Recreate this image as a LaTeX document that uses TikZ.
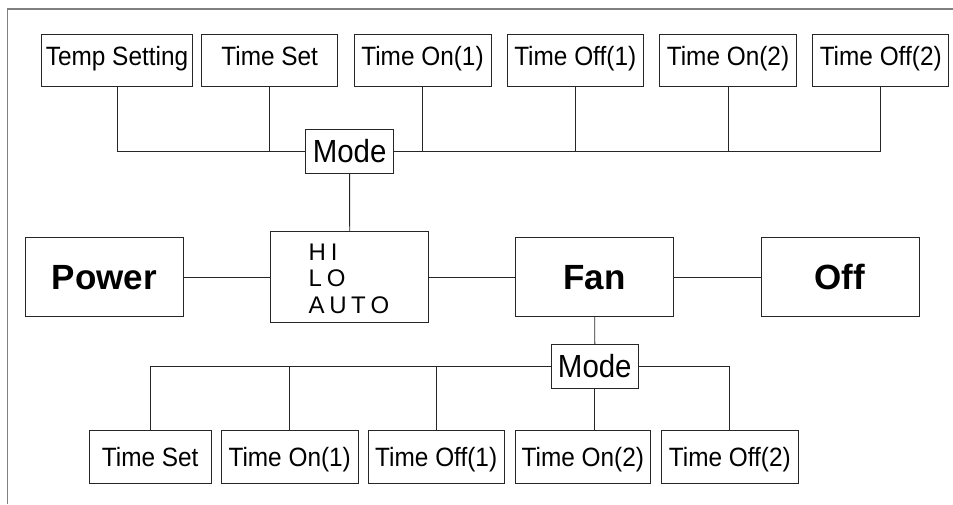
\documentclass[tikz,border=0pt]{standalone}
\usepackage{fontspec}
\setmainfont{Liberation Sans}[FakeStretch=0.92]
\newfontfamily\plainsans{Liberation Sans}
\begin{document}
\begin{tikzpicture}[x=1pt,y=-1pt,
  box/.style={draw=black!85, line width=0.9pt, inner sep=0pt, font=\fontsize{26.5}{29}\selectfont},
  topbox/.style={box, minimum height=52.4pt, text height=19pt, text depth=8.4pt},
  botbox/.style={box, minimum height=53.3pt, text height=19pt, text depth=0.4pt},
  modebox/.style={box, minimum width=87.5pt, minimum height=43.7pt, font=\fontsize{32}{35}\selectfont, text height=22.9pt, text depth=0pt},
  bigbox/.style={box, minimum width=158pt, minimum height=79pt, font=\plainsans\bfseries\fontsize{35}{38}\selectfont, text height=25pt, text depth=0pt},
  hlt/.style={inner sep=0pt, anchor=base west, font=\plainsans\fontsize{24}{27}\selectfont},
  wire/.style={draw=black!85, line width=0.9pt},
  frame/.style={draw=black!50, line width=1.6pt}]
\useasboundingbox (0,0) rectangle (953,504);
% frame
\coordinate (fbl) at (7.5,504);
\coordinate (ftl) at (7.5,9);
\coordinate (ftr) at (953,9);
\draw[frame] (fbl) -- (ftl) -- (ftr);
% top row
\node[topbox, minimum width=150.6pt] (tempset) at (117,60.5) {Temp Setting};
\node[topbox, minimum width=136pt] (timeset) at (269.7,60.5) {Time Set};
\node[topbox, minimum width=137pt] (ton1) at (422.5,60.5) {Time On(1)};
\node[topbox, minimum width=135.7pt] (toff1) at (575.2,60.5) {Time Off(1)};
\node[topbox, minimum width=136.6pt] (ton2) at (728,60.5) {Time On(2)};
\node[topbox, minimum width=136pt] (toff2) at (880.7,60.5) {Time Off(2)};
\node[modebox] (mode) at (349.65,151.5) {Mode};
% middle row
\node[bigbox] (power) at (104.5,277.2) {Power};
\node[box, minimum width=158pt, minimum height=91pt] (hla) at (349.7,277.2) {};
\node[hlt] (hi) at (308.5,260) {H\kern4.8pt I};
\node[hlt] (lo) at (308.5,286.7) {L\kern4.8pt O};
\node[hlt] (auto) at (308.5,313.3) {A\kern4.6pt U\kern4.6pt T\kern4.6pt O};
\node[bigbox] (fan) at (594.7,277.2) {Fan};
\node[bigbox] (off) at (840,277.2) {Off};
% bottom row
\node[modebox] (bmode) at (594.8,366.3) {Mode};
\node[botbox, minimum width=121.7pt] (bts) at (150.2,456.7) {Time Set};
\node[botbox, minimum width=136.7pt] (bton1) at (289.7,456.7) {Time On(1)};
\node[botbox, minimum width=136.3pt] (btoff1) at (436.2,456.7) {Time Off(1)};
\node[botbox, minimum width=135.7pt] (bton2) at (582.8,456.7) {Time On(2)};
\node[botbox, minimum width=137pt] (btoff2) at (729.8,456.7) {Time Off(2)};
% top connectors
\draw[wire] (tempset.south) |- (mode.west);
\draw[wire] (timeset.south) -- (timeset.south |- mode.west);
\draw[wire] (mode.east) -| (toff2.south);
\draw[wire] (ton1.south) -- (ton1.south |- mode.east);
\draw[wire] (toff1.south) -- (toff1.south |- mode.east);
\draw[wire] (ton2.south) -- (ton2.south |- mode.east);
\draw[wire] (mode.south) -- (hla.north);
% middle connectors
\draw[wire] (power.east) -- (hla.west);
\draw[wire] (hla.east) -- (fan.west);
\draw[wire] (fan.east) -- (off.west);
\draw[wire] (fan.south) -- (bmode.north);
% bottom connectors
\draw[wire] (bmode.west) -| (bts.north);
\draw[wire] (bton1.north) -- (bton1.north |- bmode.west);
\draw[wire] (btoff1.north) -- (btoff1.north |- bmode.west);
\draw[wire] (bmode.south) -- (bmode.south |- bton2.north);
\draw[wire] (bmode.east) -| (btoff2.north);
\end{tikzpicture}
\end{document}
